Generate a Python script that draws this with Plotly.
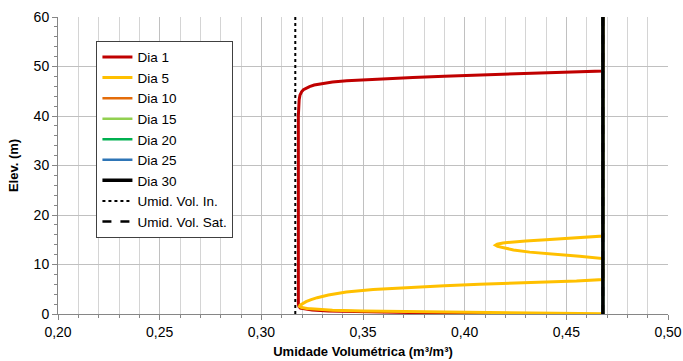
import plotly.graph_objects as go

# umidade volumétrica (m3/m3) x elevação (m)
theta_in = 0.3167
theta_sat = 0.468

dia1_theta = [0.413, 0.40, 0.3745, 0.345, 0.333, 0.325, 0.321, 0.3192, 0.3185, 0.3182, 0.3182,
              0.3183, 0.3186, 0.319, 0.3198, 0.3207, 0.322, 0.3237, 0.326, 0.330, 0.335,
              0.342, 0.35, 0.36, 0.3745, 0.39, 0.4073, 0.425, 0.440, 0.455, 0.468, 0.468]
dia1_elev = [0.0, 0.1, 0.25, 0.45, 0.6, 0.8, 1.0, 1.2, 1.5, 2.0, 40.0,
             42.0, 43.3, 44.2, 44.9, 45.3, 45.65, 45.95, 46.25, 46.55, 46.85,
             47.1, 47.3, 47.5, 47.8, 48.05, 48.3, 48.5, 48.7, 48.9, 49.1, 60.0]

dia5_theta = [0.468, 0.43, 0.40, 0.3745, 0.35, 0.335, 0.327, 0.3225, 0.3198, 0.3188, 0.319,
              0.3202, 0.322, 0.3245, 0.3275, 0.333, 0.3418, 0.355, 0.3745, 0.39, 0.4073,
              0.425, 0.440, 0.455, 0.468, 0.468, 0.4565, 0.444, 0.432, 0.424, 0.419, 0.4162,
              0.4152, 0.416, 0.4188, 0.424, 0.43, 0.440, 0.455, 0.468, 0.468]
dia5_elev = [0.05, 0.2, 0.3, 0.45, 0.6, 0.78, 0.95, 1.12, 1.3, 1.5, 1.75,
             2.1, 2.5, 2.9, 3.3, 3.85, 4.45, 4.95, 5.4, 5.7, 6.0,
             6.2, 6.4, 6.65, 6.95, 11.2, 11.65, 12.05, 12.5, 12.95, 13.35, 13.65,
             13.9, 14.1, 14.35, 14.6, 14.75, 15.0, 15.35, 15.75, 60.0]

# dias 10 a 30: perfil saturado
sat_theta = [theta_sat, theta_sat]
sat_elev = [0, 60]
in_theta = [theta_in, theta_in]

fig = go.Figure()

fig.add_trace(go.Scatter(x=dia1_theta, y=dia1_elev, mode='lines', name='Dia 1',
                         line=dict(color='#C00000', width=3)))
fig.add_trace(go.Scatter(x=dia5_theta, y=dia5_elev, mode='lines', name='Dia 5',
                         line=dict(color='#FFC000', width=3)))
for nome, cor in [('Dia 10', '#E46C0A'), ('Dia 15', '#92D050'),
                  ('Dia 20', '#00B050'), ('Dia 25', '#2E75B6')]:
    fig.add_trace(go.Scatter(x=sat_theta, y=sat_elev, mode='lines', name=nome,
                             line=dict(color=cor, width=2.5)))
fig.add_trace(go.Scatter(x=sat_theta, y=sat_elev, mode='lines', name='Dia 30',
                         line=dict(color='black', width=3.5)))
fig.add_trace(go.Scatter(x=in_theta, y=sat_elev, mode='lines', name='Umid. Vol. In.',
                         line=dict(color='black', width=2, dash='dot')))
fig.add_trace(go.Scatter(x=sat_theta, y=sat_elev, mode='lines', name='Umid. Vol. Sat.',
                         line=dict(color='black', width=2.5, dash='dash')))

fig.update_layout(
    width=683, height=361,
    margin=dict(l=58, r=15, t=17, b=47),
    plot_bgcolor='white', paper_bgcolor='white',
    separators=',.',
    font=dict(family='Liberation Sans, Arial', size=14, color='black'),
    showlegend=True,
    legend=dict(x=0.063, y=0.92, xanchor='left', yanchor='top',
                bgcolor='white', bordercolor='#404040', borderwidth=1,
                font=dict(size=13.5), tracegroupgap=0, itemwidth=30),
)
fig.update_xaxes(
    range=[0.2, 0.5], dtick=0.05, tickformat='.2f', automargin=False,
    showgrid=True, gridcolor='#c0c0c0', gridwidth=1,
    showline=True, linecolor='#868686', linewidth=1,
    ticks='outside', ticklen=5, tickcolor='#868686',
    minor=dict(dtick=0.01, showgrid=True, gridcolor='#d4d4d4',
               ticks='outside', ticklen=3, tickcolor='#868686'),
    zeroline=False,
    title=dict(text='<b>Umidade Volumétrica (m³/m³)</b>', font=dict(size=13), standoff=8),
)
fig.update_yaxes(
    range=[0, 60], dtick=10, automargin=False,
    showgrid=True, gridcolor='#c0c0c0', gridwidth=1,
    showline=True, linecolor='#868686', linewidth=1,
    ticks='outside', ticklen=5, tickcolor='#868686',
    minor=dict(dtick=2, showgrid=False, ticks='outside', ticklen=3, tickcolor='#868686'),
    zeroline=False,
    title=dict(text='<b>Elev. (m)</b>', font=dict(size=13), standoff=12),
)

# página sem margem do body, para a figura ocupar a janela toda
fig.write_html("out.html", config={'displayModeBar': False},
               post_script="document.body.style.margin='0';")
